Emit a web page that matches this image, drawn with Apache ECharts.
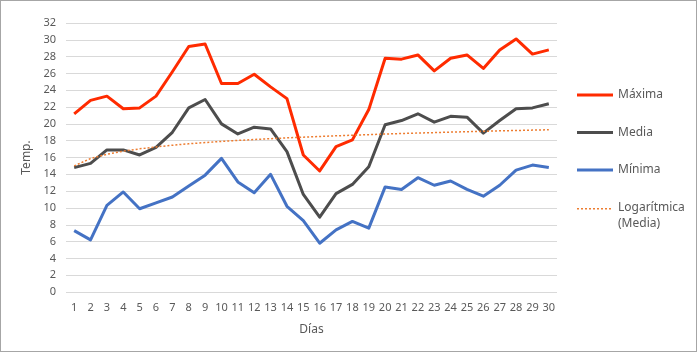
<!DOCTYPE html>
<html><head><meta charset="utf-8">
<script src="https://cdn.jsdelivr.net/npm/echarts@6/dist/echarts.min.js"></script>
<style>
html,body{margin:0;padding:0;background:#fff;}
#c{width:697px;height:352px;box-sizing:border-box;border:1px solid #a6a6a6;}
</style></head>
<body><div id="c"></div>
<script>
const dias = ['1','2','3','4','5','6','7','8','9','10','11','12','13','14','15','16','17','18','19','20','21','22','23','24','25','26','27','28','29','30'];
const maxima = [21.2,22.8,23.3,21.8,21.9,23.3,26.2,29.2,29.5,24.8,24.8,25.9,24.4,23.0,16.3,14.4,17.3,18.1,21.7,27.8,27.7,28.2,26.3,27.8,28.2,26.6,28.8,30.1,28.3,28.8];
const media = [14.8,15.3,16.9,16.9,16.3,17.2,19.0,21.9,22.9,20.0,18.8,19.6,19.4,16.7,11.6,8.9,11.7,12.8,14.9,19.9,20.4,21.2,20.2,20.9,20.8,18.9,20.4,21.8,21.9,22.4];
const minima = [7.3,6.2,10.3,11.9,9.9,10.6,11.3,12.6,13.9,15.9,13.1,11.8,14.0,10.2,8.5,5.8,7.4,8.4,7.6,12.5,12.2,13.6,12.7,13.2,12.2,11.4,12.7,14.5,15.1,14.8];
const tendencia = [15.00,15.88,16.39,16.75,17.03,17.26,17.46,17.63,17.78,17.91,18.03,18.14,18.24,18.34,18.42,18.50,18.58,18.65,18.72,18.79,18.85,18.91,18.96,19.02,19.07,19.12,19.17,19.21,19.26,19.30];

const font = 'Noto Sans';
const chart = echarts.init(document.getElementById('c'));
const lineS = (name, data, color) => ({
  name, type:'line', data, symbol:'none', smooth:false,
  lineStyle:{color, width:3, join:'round'}, itemStyle:{color}
});
let dots = '';
for (let i = 0; i < 9; i++) dots += 'M' + (i*4) + ',0h2v1.6h-2z';
dots += 'M35.9,15.9h0.1v0.1h-0.1z';
chart.setOption({
  animation:false,
  textStyle:{fontFamily:font},
  grid:{left:65, right:139, top:22, bottom:59},
  xAxis:{
    type:'category', data:dias, boundaryGap:true,
    name:'Días', nameLocation:'middle', nameGap:32,
    nameTextStyle:{color:'#595959', fontSize:12, fontFamily:font},
    axisLine:{show:false}, axisTick:{show:false},
    axisLabel:{color:'#595959', fontSize:11, margin:10, interval:0, fontFamily:font}
  },
  yAxis:{
    type:'value', min:0, max:32, interval:2,
    name:'Temp.', nameLocation:'middle', nameGap:32, nameRotate:90,
    nameTextStyle:{color:'#595959', fontSize:12, fontFamily:font},
    axisLine:{show:false}, axisTick:{show:false},
    axisLabel:{color:'#595959', fontSize:11, margin:10, fontFamily:font},
    splitLine:{lineStyle:{color:'#d9d9d9', width:1}}
  },
  legend:[{
    orient:'vertical', left:576, top:88, padding:0, itemWidth:36, itemHeight:3, itemGap:25.5,
    icon:'rect',
    data:['Máxima','Media','Mínima'],
    textStyle:{color:'#595959', fontSize:12, fontFamily:font}
  },{
    orient:'vertical', left:576, top:199, padding:0, itemWidth:36, itemHeight:16,
    icon:'path://' + dots,
    data:['Logarítmica (Media)'],
    formatter:function(){return 'Logarítmica\n(Media)';},
    textStyle:{color:'#595959', fontSize:12, lineHeight:16, fontFamily:font}
  }],
  series:[
    lineS('Máxima', maxima, '#ff2b00'),
    lineS('Media', media, '#4d4d4d'),
    lineS('Mínima', minima, '#4472c4'),
    {name:'Logarítmica (Media)', type:'line', data:tendencia, symbol:'none',
     lineStyle:{color:'#ed7d31', width:1.5, type:[2,2]}, itemStyle:{color:'#ed7d31'}}
  ]
});
</script></body></html>
